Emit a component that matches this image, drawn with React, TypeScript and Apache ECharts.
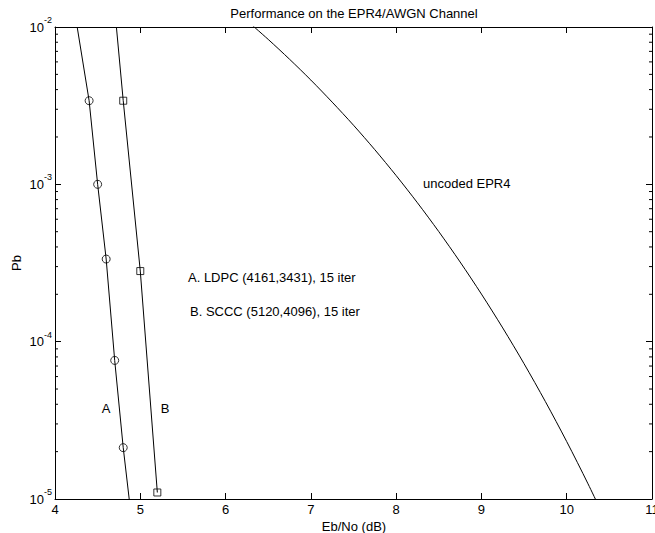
import React, { useEffect, useRef } from "react";
import * as echarts from "echarts";

const FONT = "'Liberation Sans', Arial, Helvetica, sans-serif";

// Eb/No (dB), Pb
const ldpcLine: [number, number][] = [
  [4.26, 1.0e-2], [4.4, 3.4e-3], [4.5, 1.0e-3], [4.6, 3.35e-4], [4.7, 7.6e-5], [4.8, 2.12e-5], [4.87, 1.0e-5],
];
const ldpcMarkers: [number, number][] = [
  [4.4, 3.4e-3], [4.5, 1.0e-3], [4.6, 3.35e-4], [4.7, 7.6e-5], [4.8, 2.12e-5],
];
const scccLine: [number, number][] = [
  [4.72, 1.0e-2], [4.8, 3.4e-3], [5.0, 2.81e-4], [5.2, 1.1e-5],
];
const scccMarkers: [number, number][] = [
  [4.8, 3.4e-3], [5.0, 2.81e-4], [5.2, 1.1e-5],
];
const uncodedEbNo = [6.25, 6.5, 6.75, 7.0, 7.25, 7.5, 7.75, 8.0, 8.25, 8.5, 8.75, 9.0, 9.25, 9.5, 9.75, 10.0, 10.25, 10.5];
const uncodedPb = [
  1.098e-2, 8.34e-3, 6.24e-3, 4.6e-3, 3.33e-3, 2.375e-3, 1.66e-3, 1.137e-3, 7.63e-4,
  5.007e-4, 3.21e-4, 2.007e-4, 1.222e-4, 7.24e-5, 4.16e-5, 2.317e-5, 1.248e-5, 6.49e-6,
];
const decades = [-5, -4, -3];
const minorMultipliers = [2, 3, 4, 5, 6, 7, 8, 9];
const X_MIN = 4;
const X_MAX = 11;

export default function App() {
  const ref = useRef<HTMLDivElement>(null);
  useEffect(() => {
    if (!ref.current) return;
    const chart = echarts.init(ref.current, undefined, { renderer: "svg" });
    const minorVals: [number, number][] = [];
    decades.forEach((e) => minorMultipliers.forEach((m) => minorVals.push([X_MIN, m * Math.pow(10, e)])));
    const uncoded = uncodedEbNo.map((x, i) => [x, uncodedPb[i]]);

    const black = "#000";
    const baseX = {
      type: "value" as const,
      min: X_MIN,
      max: X_MAX,
      interval: 1,
      splitLine: { show: false },
      axisLine: { show: true, onZero: false, lineStyle: { color: black, width: 1 } },
      axisTick: { show: true, inside: true, length: 6, lineStyle: { color: black } },
    };
    const baseY = {
      type: "log" as const,
      logBase: 10,
      min: 1e-5,
      max: 1e-2,
      splitNumber: 3,
      splitLine: { show: false },
      axisLine: { show: true, onZero: false, lineStyle: { color: black, width: 1 } },
      axisTick: { show: true, inside: true, length: 6, lineStyle: { color: black } },
    };

    chart.setOption({
      animation: false,
      grid: { left: 55, right: 3, top: 27, bottom: 34, containLabel: false, outerBoundsMode: "none" },
      xAxis: [
        {
          ...baseX,
          position: "bottom",
          axisLabel: { color: black, fontSize: 13, fontFamily: FONT, margin: 4, showMaxLabel: true, hideOverlap: false },
        },
        { ...baseX, position: "top", axisLabel: { show: false } },
      ],
      yAxis: [
        {
          ...baseY,
          position: "left",
          axisLabel: {
            margin: 3,
            formatter: (v: number) => `{b|10}{s|${Math.round(Math.log10(v))}}`,
            rich: {
              b: { fontSize: 13, fontFamily: FONT, color: black },
              s: { fontSize: 9, fontFamily: FONT, color: black, padding: [0, 0, 14, 0] },
            },
          },
        },
        { ...baseY, position: "right", axisLabel: { show: false } },
      ],
      series: [
        {
          type: "line",
          data: ldpcLine,
          showSymbol: false,
          symbol: "none",
          lineStyle: { color: black, width: 1 },
          clip: true,
        },
        {
          type: "line",
          data: scccLine,
          showSymbol: false,
          symbol: "none",
          lineStyle: { color: black, width: 1 },
          clip: true,
        },
        {
          type: "line",
          data: uncoded,
          showSymbol: false,
          symbol: "none",
          smooth: 0.3,
          lineStyle: { color: black, width: 1 },
          clip: true,
        },
        {
          type: "scatter",
          data: ldpcMarkers,
          symbol: "circle",
          symbolSize: 8,
          itemStyle: { color: "rgba(0,0,0,0)", borderColor: black, borderWidth: 1 },
        },
        {
          type: "scatter",
          data: scccMarkers,
          symbol: "rect",
          symbolSize: 7,
          itemStyle: { color: "rgba(0,0,0,0)", borderColor: black, borderWidth: 1 },
        },
        {
          type: "custom",
          data: minorVals,
          encode: { x: 0, y: 1 },
          silent: true,
          renderItem: (_params: any, api: any) => {
            const v = api.value(1);
            const l = api.coord([X_MIN, v]);
            const r = api.coord([X_MAX, v]);
            return {
              type: "group",
              children: [
                { type: "line", shape: { x1: l[0], y1: l[1], x2: l[0] + 3, y2: l[1] }, style: { stroke: black, lineWidth: 1 } },
                { type: "line", shape: { x1: r[0] - 3, y1: r[1], x2: r[0], y2: r[1] }, style: { stroke: black, lineWidth: 1 } },
              ],
            };
          },
        },
      ],
      graphic: [
        {
          type: "text",
          x: 354,
          y: 13,
          style: { text: "Performance on the EPR4/AWGN Channel", fontSize: 13, fontFamily: FONT, fill: black, align: "center", verticalAlign: "middle" },
        },
        {
          type: "text",
          x: 354,
          y: 526,
          style: { text: "Eb/No (dB)", fontSize: 13, fontFamily: FONT, fill: black, align: "center", verticalAlign: "middle" },
        },
        {
          type: "text",
          x: 16,
          y: 263,
          rotation: Math.PI / 2,
          style: { text: "Pb", fontSize: 13, fontFamily: FONT, fill: black, align: "center", verticalAlign: "middle" },
        },
        {
          type: "text",
          x: 188,
          y: 277,
          style: { text: "A. LDPC (4161,3431), 15 iter", fontSize: 13, fontFamily: FONT, fill: black, align: "left", verticalAlign: "middle" },
        },
        {
          type: "text",
          x: 190,
          y: 311,
          style: { text: "B. SCCC (5120,4096), 15 iter", fontSize: 13, fontFamily: FONT, fill: black, align: "left", verticalAlign: "middle" },
        },
        {
          type: "text",
          x: 423,
          y: 183,
          style: { text: "uncoded EPR4", fontSize: 13, fontFamily: FONT, fill: black, align: "left", verticalAlign: "middle" },
        },
        {
          type: "text",
          x: 106,
          y: 408,
          style: { text: "A", fontSize: 13, fontFamily: FONT, fill: black, align: "center", verticalAlign: "middle" },
        },
        {
          type: "text",
          x: 165,
          y: 408,
          style: { text: "B", fontSize: 13, fontFamily: FONT, fill: black, align: "center", verticalAlign: "middle" },
        },
      ],
    });
    return () => chart.dispose();
  }, []);
  return (
    <div
      ref={ref}
      style={{ position: "fixed", left: 0, top: 0, width: 655, height: 533, background: "#fff" }}
    />
  );
}
